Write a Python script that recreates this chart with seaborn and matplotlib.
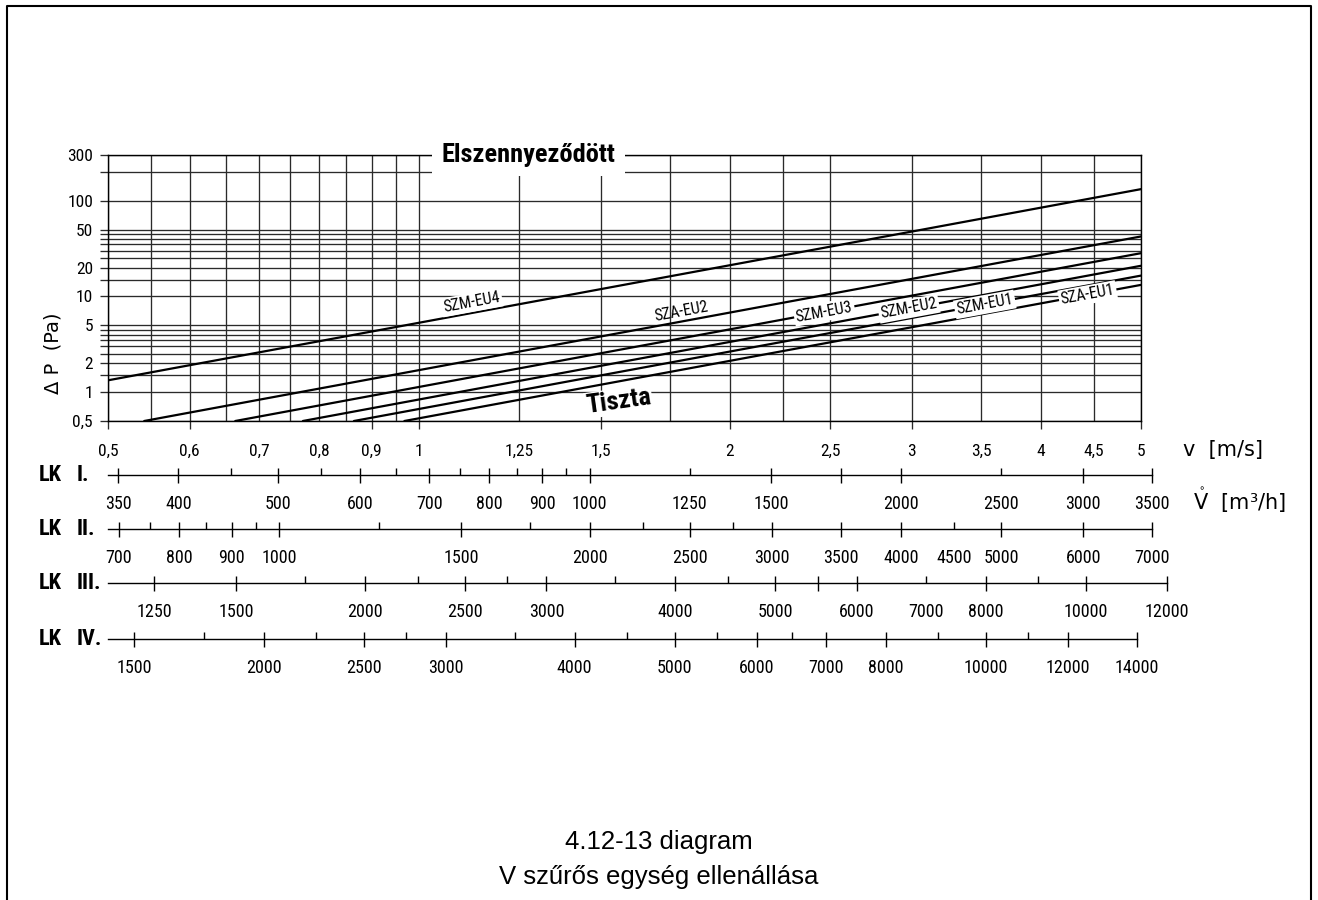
import numpy as np
import pandas as pd
import matplotlib
matplotlib.use("Agg")
import matplotlib.pyplot as plt
import seaborn as sns
from matplotlib.ticker import NullLocator
from matplotlib.lines import Line2D
from matplotlib import font_manager as fm

# ---------------- data ----------------
series_names = ["SZM-EU4", "SZA-EU2", "SZM-EU3", "SZM-EU2", "SZM-EU1", "SZA-EU1"]
szm_eu4_v = [0.5, 5.0]
szm_eu4_dp = [1.33, 132.0]
sza_eu2_v = [0.542, 5.0]
sza_eu2_dp = [0.5, 42.3]
szm_eu3_v = [0.664, 5.0]
szm_eu3_dp = [0.5, 28.3]
szm_eu2_v = [0.772, 5.0]
szm_eu2_dp = [0.5, 20.9]
szm_eu1_v = [0.865, 5.0]
szm_eu1_dp = [0.5, 16.5]
sza_eu1_v = [0.968, 5.0]
sza_eu1_dp = [0.5, 13.2]

v_grid = [0.5, 0.55, 0.6, 0.65, 0.7, 0.75, 0.8, 0.85, 0.9, 0.95, 1.0,
          1.25, 1.5, 1.75, 2.0, 2.25, 2.5, 3.0, 3.5, 4.0, 4.5, 5.0]
v_marked = [0.5, 0.6, 0.9, 1.0, 1.5, 2.0, 2.5, 3.0, 4.0, 5.0]
v_label_values = [0.5, 0.6, 0.7, 0.8, 0.9, 1.0, 1.25, 1.5, 2.0, 2.5, 3.0, 3.5, 4.0, 4.5, 5.0]
v_label_texts = ["0,5", "0,6", "0,7", "0,8", "0,9", "1", "1,25", "1,5", "2", "2,5",
                 "3", "3,5", "4", "4,5", "5"]

dp_grid = [0.5, 1, 1.5, 2, 2.5, 3, 3.5, 4, 4.5, 5, 10, 15, 20, 25, 30, 35, 40, 45, 50,
           100, 200, 300]
dp_label_values = [0.5, 1, 2, 5, 10, 20, 50, 100, 300]
dp_label_texts = ["0,5", "1", "2", "5", "10", "20", "50", "100", "300"]

lk_names = ["I.", "II.", "III.", "IV."]
lk1_range = [342, 3500]
lk1_major = [350, 400, 500, 600, 700, 800, 900, 1000, 1500, 1750, 2000, 3000, 3500]
lk1_minor = [450, 550, 650, 750, 850, 950, 1250, 2500]
lk1_labels = [350, 400, 500, 600, 700, 800, 900, 1000, 1250, 1500, 2000, 2500, 3000, 3500]

lk2_range = [683, 7000]
lk2_major = [700, 800, 900, 1000, 1500, 2000, 2500, 3000, 3500, 4000, 5000, 6000, 7000]
lk2_minor = [750, 850, 950, 1250, 1750, 2250, 2750, 4500]
lk2_labels = [700, 800, 900, 1000, 1500, 2000, 2500, 3000, 3500, 4000, 4500, 5000, 6000, 7000]

lk3_range = [1127, 12000]
lk3_major = [1250, 1500, 2000, 2500, 3000, 4000, 5000, 5500, 6000, 8000, 10000, 12000]
lk3_minor = [1750, 2250, 2750, 3500, 4500, 7000, 9000]
lk3_labels = [1250, 1500, 2000, 2500, 3000, 4000, 5000, 6000, 7000, 8000, 10000, 12000]

lk4_range = [1414, 14000]
lk4_major = [1500, 2000, 2500, 3000, 4000, 5000, 6000, 7000, 8000, 10000, 12000, 14000]
lk4_minor = [1750, 2250, 2750, 3500, 4500, 5500, 6500, 9000, 11000]
lk4_labels = [1500, 2000, 2500, 3000, 4000, 5000, 6000, 7000, 8000, 10000, 12000, 14000]

title_line1 = "4.12-13 diagram"
title_line2 = "V szűrős egység ellenállása"


# ---------------- font choice: a narrow sans if one is installed ----------------
def pick_narrow():
    names = {f.name for f in fm.fontManager.ttflist}
    for p in ["Liberation Sans Narrow", "Roboto Condensed", "Open Sans Condensed",
              "Noto Sans Condensed", "DejaVu Sans Condensed", "Arial Narrow"]:
        if p in names:
            return p, "normal"
    for fam in ["DejaVu Sans", "Noto Sans", "Roboto", "Open Sans", "Liberation Sans"]:
        for f in fm.fontManager.ttflist:
            if f.name == fam and str(f.stretch) in ("condensed", "semi-condensed",
                                                    "extra-condensed", "ultra-condensed"):
                return fam, "condensed"
    return "Liberation Sans", "normal"


NARROW_FAM, NARROW_STRETCH = pick_narrow()

# ---------------- styling / layout ----------------
sns.set_theme(style="white")
plt.rcParams["font.family"] = [NARROW_FAM, "Liberation Sans", "DejaVu Sans"]
plt.rcParams["font.stretch"] = NARROW_STRETCH
plt.rcParams["text.color"] = "black"
plt.rcParams["axes.edgecolor"] = "black"
plt.rcParams["xtick.color"] = "black"
plt.rcParams["ytick.color"] = "black"
plt.rcParams["xtick.bottom"] = True
plt.rcParams["ytick.left"] = True
plt.rcParams["axes.labelcolor"] = "black"
plt.rcParams["mathtext.fontset"] = "dejavusans"

W, H = 1318, 900
fig = plt.figure(figsize=(W / 100, H / 100), dpi=100)
fig.patch.set_facecolor("white")


def fx(px):
    return px / W


def fy(py):
    return 1 - py / H


ax = fig.add_axes([fx(108), fy(421), fx(1141 - 108), (421 - 155) / H])
ax.set_xscale("log")
ax.set_yscale("log")

# curves
series_v = [szm_eu4_v, sza_eu2_v, szm_eu3_v, szm_eu2_v, szm_eu1_v, sza_eu1_v]
series_dp = [szm_eu4_dp, sza_eu2_dp, szm_eu3_dp, szm_eu2_dp, szm_eu1_dp, sza_eu1_dp]
rows = []
for name, vs, dps in zip(series_names, series_v, series_dp):
    for v, d in zip(vs, dps):
        rows.append({"filter": name, "v": v, "dp": d})
df = pd.DataFrame(rows)
sns.lineplot(data=df, x="v", y="dp", units="filter", estimator=None, color="black",
             lw=1.6, ax=ax, legend=False, sort=False, zorder=3)

ax.set_xlim(0.5, 5)
ax.set_ylim(0.5, 300)

# x ticks: marked ticks (major) and unmarked grid lines (minor)
v_lab = dict(zip(v_label_values, v_label_texts))
v_minor = [v for v in v_grid if v not in v_marked]
ax.set_xticks(v_marked, labels=[v_lab.get(v, "") for v in v_marked])
ax.set_xticks(v_minor, labels=[v_lab.get(v, "") for v in v_minor], minor=True)
dp_lab = dict(zip(dp_label_values, dp_label_texts))
ax.set_yticks(dp_grid, labels=[dp_lab.get(d, "") for d in dp_grid])
ax.yaxis.set_minor_locator(NullLocator())

gcol = "#2a2a2a"
ax.grid(True, which="both", axis="x", color=gcol, lw=0.95)
ax.grid(True, which="major", axis="y", color=gcol, lw=0.95)
ax.set_axisbelow(True)
ax.tick_params(axis="y", which="major", left=True, direction="out", length=5.8,
               width=0.95, pad=5, labelsize=12.5, color=gcol)
ax.tick_params(axis="x", which="major", bottom=True, direction="out", length=5.8,
               width=0.95, pad=10.9, labelsize=12.5, color=gcol)
ax.tick_params(axis="x", which="minor", bottom=True, length=0, pad=16.7, labelsize=12.5)
for s in ax.spines.values():
    s.set_linewidth(1.0)
    s.set_color("black")

ax.set_xlabel("")
ax.set_ylabel("Δ P  (Pa)", fontsize=14, family=["DejaVu Sans"], fontstretch="normal")
ax.yaxis.set_label_coords(-0.0436, 0.256)

# series labels along the lines
label_v = [1.125, 1.795, 2.468, 2.98, 3.53, 4.44]
label_off_pt = [7.5, 7.5, 0, 0, 0, 0]
label_box = [True, False, True, True, True, True]
for name, vs, dps, lv, off, boxed in zip(series_names, series_v, series_dp, label_v,
                                         label_off_pt, label_box):
    ld = np.exp(np.interp(np.log(lv), np.log(vs), np.log(dps)))
    p1 = ax.transData.transform((vs[0], dps[0]))
    p2 = ax.transData.transform((vs[-1], dps[-1]))
    ang = np.degrees(np.arctan2(p2[1] - p1[1], p2[0] - p1[0]))
    kw = {}
    if boxed:
        kw["bbox"] = dict(boxstyle="square,pad=0.12", fc="white", ec="none")
    ax.annotate(name, (lv, ld), xytext=(0, off), textcoords="offset points",
                ha="center", va="center", rotation=ang, rotation_mode="anchor",
                fontsize=11.5, zorder=6, **kw)

ax.text(1.56, 0.80, "Tiszta", ha="center", va="center", rotation=8,
        fontsize=19, fontweight="bold", zorder=7,
        bbox=dict(boxstyle="square,pad=0.04", fc="white", ec="none"))
ax.text(1.277, 300, "Elszennyeződött", ha="center", va="center", fontsize=19,
        fontweight="bold", zorder=7, clip_on=False,
        bbox=dict(boxstyle="square,pad=0.35", fc="white", ec="none"))

# axis quantity labels
fig.text(fx(1183), fy(450), "v  [m/s]", ha="left", va="center", fontsize=15,
         family=["DejaVu Sans"], fontstretch="normal")
fig.text(fx(1193), fy(500), r"$\mathring{\mathrm{V}}$  [m³/h]", ha="left", va="center",
         fontsize=15, family=["DejaVu Sans"], fontstretch="normal")

# ---------------- LK volume-flow scales ----------------
lk_line_y = [475, 529.3, 583.3, 639.3]
lk_end_x = [1151.7, 1152.3, 1167.3, 1136.7]
lk_ranges = [lk1_range, lk2_range, lk3_range, lk4_range]
lk_majors = [lk1_major, lk2_major, lk3_major, lk4_major]
lk_minors = [lk1_minor, lk2_minor, lk3_minor, lk4_minor]
lk_labels = [lk1_labels, lk2_labels, lk3_labels, lk4_labels]

for name, yl, xe, rng, mj, mn, lb in zip(lk_names, lk_line_y, lk_end_x, lk_ranges,
                                        lk_majors, lk_minors, lk_labels):
    lx = fig.add_axes([fx(108), fy(yl), fx(xe - 108), 0.01])
    lx.set_xscale("log")
    lx.set_xlim(rng)
    lx.set_ylim(0, 1)
    lx.set_xticks(mj, labels=[str(v) if v in lb else "" for v in mj])
    lx.set_xticks(mn, labels=[str(v) if v in lb else "" for v in mn], minor=True)
    lx.set_yticks([])
    for s in ["left", "right", "top"]:
        lx.spines[s].set_visible(False)
    lx.spines["bottom"].set_linewidth(1.0)
    lx.spines["bottom"].set_color("black")
    lx.patch.set_alpha(0)
    lx.tick_params(axis="x", which="major", bottom=True, direction="inout", length=10.8,
                   width=1.0, pad=9, labelsize=13)
    lx.tick_params(axis="x", which="minor", bottom=True, direction="in", length=5,
                   width=1.0, pad=14.4, labelsize=13)
    fig.text(fx(39), fy(yl), "LK", ha="left", va="center", fontsize=16,
             fontweight="heavy")
    fig.text(fx(77), fy(yl), name, ha="left", va="center", fontsize=16,
             fontweight="heavy")

# ---------------- caption ----------------
fig.text(0.5, fy(842), title_line1, ha="center", va="center", fontsize=18.5,
         family=["Liberation Sans", "DejaVu Sans"], fontstretch="normal")
fig.text(0.5, fy(877), title_line2, ha="center", va="center", fontsize=18.5,
         family=["Liberation Sans", "DejaVu Sans"], fontstretch="normal")

# page frame
fig.add_artist(Line2D([fx(6.5), fx(6.5), fx(1311), fx(1311)],
                      [0, fy(6), fy(6), 0], transform=fig.transFigure,
                      color="black", lw=1.5))

fig.savefig("out.png", dpi=100)
